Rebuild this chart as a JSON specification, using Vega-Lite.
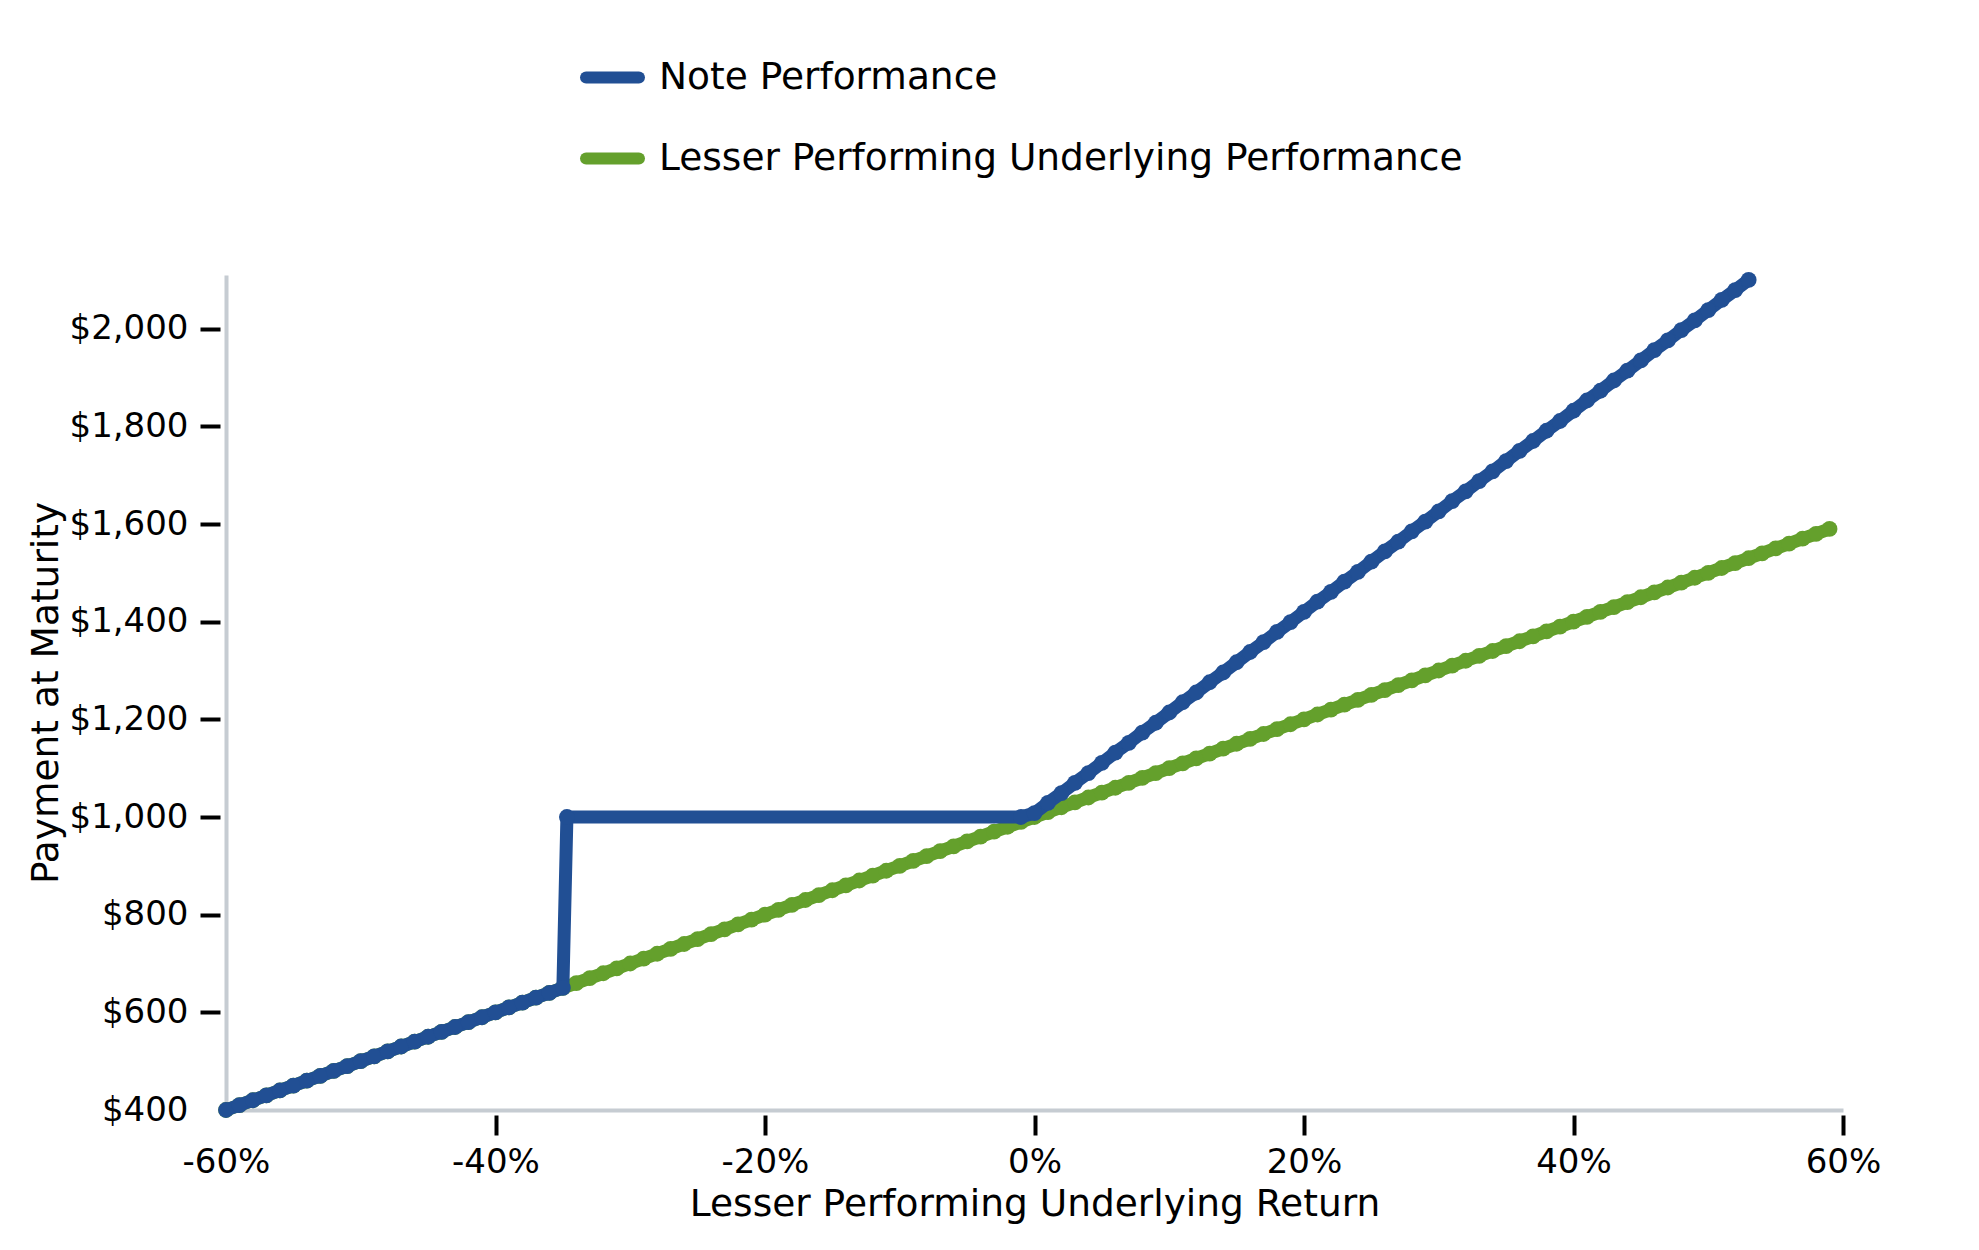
{
  "$schema": "https://vega.github.io/schema/vega-lite/v6.json",
  "description": "Payment at maturity of the note against the lesser performing underlying return.",
  "width": 1617,
  "height": 835,
  "autosize": {"type": "none"},
  "padding": {"left": 226, "top": 275, "right": 136, "bottom": 140},
  "background": "white",
  "config": {
    "font": "DejaVu Sans",
    "view": {"stroke": null}
  },
  "data": {
    "values": [
      {"r": -60, "under": 400, "note": 400}, {"r": -59, "under": 410, "note": 410}, {"r": -58, "under": 420, "note": 420},
      {"r": -57, "under": 430, "note": 430}, {"r": -56, "under": 440, "note": 440}, {"r": -55, "under": 450, "note": 450},
      {"r": -54, "under": 460, "note": 460}, {"r": -53, "under": 470, "note": 470}, {"r": -52, "under": 480, "note": 480},
      {"r": -51, "under": 490, "note": 490}, {"r": -50, "under": 500, "note": 500}, {"r": -49, "under": 510, "note": 510},
      {"r": -48, "under": 520, "note": 520}, {"r": -47, "under": 530, "note": 530}, {"r": -46, "under": 540, "note": 540},
      {"r": -45, "under": 550, "note": 550}, {"r": -44, "under": 560, "note": 560}, {"r": -43, "under": 570, "note": 570},
      {"r": -42, "under": 580, "note": 580}, {"r": -41, "under": 590, "note": 590}, {"r": -40, "under": 600, "note": 600},
      {"r": -39, "under": 610, "note": 610}, {"r": -38, "under": 620, "note": 620}, {"r": -37, "under": 630, "note": 630},
      {"r": -36, "under": 640, "note": 640}, {"r": -35, "under": 650, "note": 650}, {"r": -34.7, "under": null, "note": 1000},
      {"r": -34, "under": 660, "note": null}, {"r": -33, "under": 670, "note": null}, {"r": -32, "under": 680, "note": null},
      {"r": -31, "under": 690, "note": null}, {"r": -30, "under": 700, "note": null}, {"r": -29, "under": 710, "note": null},
      {"r": -28, "under": 720, "note": null}, {"r": -27, "under": 730, "note": null}, {"r": -26, "under": 740, "note": null},
      {"r": -25, "under": 750, "note": null}, {"r": -24, "under": 760, "note": null}, {"r": -23, "under": 770, "note": null},
      {"r": -22, "under": 780, "note": null}, {"r": -21, "under": 790, "note": null}, {"r": -20, "under": 800, "note": null},
      {"r": -19, "under": 810, "note": null}, {"r": -18, "under": 820, "note": null}, {"r": -17, "under": 830, "note": null},
      {"r": -16, "under": 840, "note": null}, {"r": -15, "under": 850, "note": null}, {"r": -14, "under": 860, "note": null},
      {"r": -13, "under": 870, "note": null}, {"r": -12, "under": 880, "note": null}, {"r": -11, "under": 890, "note": null},
      {"r": -10, "under": 900, "note": null}, {"r": -9, "under": 910, "note": null}, {"r": -8, "under": 920, "note": null},
      {"r": -7, "under": 930, "note": null}, {"r": -6, "under": 940, "note": null}, {"r": -5, "under": 950, "note": null},
      {"r": -4, "under": 960, "note": null}, {"r": -3, "under": 970, "note": null}, {"r": -2, "under": 980, "note": null},
      {"r": -1, "under": 990, "note": 1000}, {"r": 0, "under": 1000, "note": 1008}, {"r": 1, "under": 1010, "note": 1029},
      {"r": 2, "under": 1020, "note": 1049}, {"r": 3, "under": 1030, "note": 1070}, {"r": 4, "under": 1040, "note": 1090},
      {"r": 5, "under": 1050, "note": 1111}, {"r": 6, "under": 1060, "note": 1132}, {"r": 7, "under": 1070, "note": 1152},
      {"r": 8, "under": 1080, "note": 1173}, {"r": 9, "under": 1090, "note": 1193}, {"r": 10, "under": 1100, "note": 1214},
      {"r": 11, "under": 1110, "note": 1235}, {"r": 12, "under": 1120, "note": 1255}, {"r": 13, "under": 1130, "note": 1276},
      {"r": 14, "under": 1140, "note": 1296}, {"r": 15, "under": 1150, "note": 1317}, {"r": 16, "under": 1160, "note": 1338},
      {"r": 17, "under": 1170, "note": 1358}, {"r": 18, "under": 1180, "note": 1379}, {"r": 19, "under": 1190, "note": 1399},
      {"r": 20, "under": 1200, "note": 1420}, {"r": 21, "under": 1210, "note": 1441}, {"r": 22, "under": 1220, "note": 1461},
      {"r": 23, "under": 1230, "note": 1482}, {"r": 24, "under": 1240, "note": 1502}, {"r": 25, "under": 1250, "note": 1523},
      {"r": 26, "under": 1260, "note": 1544}, {"r": 27, "under": 1270, "note": 1564}, {"r": 28, "under": 1280, "note": 1585},
      {"r": 29, "under": 1290, "note": 1605}, {"r": 30, "under": 1300, "note": 1626}, {"r": 31, "under": 1310, "note": 1647},
      {"r": 32, "under": 1320, "note": 1667}, {"r": 33, "under": 1330, "note": 1688}, {"r": 34, "under": 1340, "note": 1708},
      {"r": 35, "under": 1350, "note": 1729}, {"r": 36, "under": 1360, "note": 1750}, {"r": 37, "under": 1370, "note": 1770},
      {"r": 38, "under": 1380, "note": 1791}, {"r": 39, "under": 1390, "note": 1811}, {"r": 40, "under": 1400, "note": 1832},
      {"r": 41, "under": 1410, "note": 1853}, {"r": 42, "under": 1420, "note": 1873}, {"r": 43, "under": 1430, "note": 1894},
      {"r": 44, "under": 1440, "note": 1914}, {"r": 45, "under": 1450, "note": 1935}, {"r": 46, "under": 1460, "note": 1956},
      {"r": 47, "under": 1470, "note": 1976}, {"r": 48, "under": 1480, "note": 1997}, {"r": 49, "under": 1490, "note": 2017},
      {"r": 50, "under": 1500, "note": 2038}, {"r": 51, "under": 1510, "note": 2059}, {"r": 52, "under": 1520, "note": 2079},
      {"r": 53, "under": 1530, "note": 2100}, {"r": 54, "under": 1540, "note": null}, {"r": 55, "under": 1550, "note": null},
      {"r": 56, "under": 1560, "note": null}, {"r": 57, "under": 1570, "note": null}, {"r": 58, "under": 1580, "note": null},
      {"r": 59, "under": 1590, "note": null}
    ]
  },
  "layer": [
    {
      "mark": {"type": "line", "strokeWidth": 13, "strokeCap": "round", "strokeJoin": "round", "invalid": "filter",
               "point": {"filled": true, "size": 250}},
      "encoding": {
        "x": {
          "field": "r", "type": "quantitative",
          "scale": {"domain": [-60, 60], "nice": false, "zero": false},
          "axis": {"orient": "bottom", "domain": true, "domainColor": "#c6ccd2", "domainWidth": 4,
                   "ticks": false, "labels": false, "grid": false, "title": null}
        },
        "y": {
          "field": "under", "type": "quantitative",
          "scale": {"domain": [400, 2110], "nice": false, "zero": false},
          "axis": {"orient": "left", "domain": true, "domainColor": "#c6ccd2", "domainWidth": 4,
                   "ticks": false, "labels": false, "grid": false, "title": null}
        },
        "color": {
          "datum": "Lesser Performing Underlying Performance",
          "scale": {"domain": ["Note Performance", "Lesser Performing Underlying Performance"],
                    "range": ["#214f94", "#64a02c"]}
        }
      }
    },
    {
      "mark": {"type": "line", "strokeWidth": 13, "strokeCap": "round", "strokeJoin": "round", "invalid": "filter",
               "point": {"filled": true, "size": 250}},
      "encoding": {
        "x": {
          "field": "r", "type": "quantitative",
          "axis": {
            "orient": "bottom", "offset": 5, "domain": false, "grid": false,
            "values": [-60, -40, -20, 0, 20, 40, 60],
            "tickSize": 20, "tickWidth": 4,
            "tickColor": {"condition": {"test": "datum.value == -60", "value": "transparent"}, "value": "black"},
            "labelExpr": "(datum.value < 0 ? '-' : '') + abs(datum.value) + '%'",
            "labelFlush": false, "labelOverlap": false, "labelBound": false,
            "labelFontSize": 34, "labelColor": "black", "labelPadding": 10,
            "title": "Lesser Performing Underlying Return",
            "titleFontSize": 37.5, "titleFontWeight": "normal", "titleColor": "black", "titlePadding": 6
          }
        },
        "y": {
          "field": "note", "type": "quantitative",
          "axis": {
            "orient": "left", "offset": 6, "domain": false, "grid": false,
            "values": [400, 600, 800, 1000, 1200, 1400, 1600, 1800, 2000],
            "tickSize": 20, "tickWidth": 4,
            "tickColor": {"condition": {"test": "datum.value == 400", "value": "transparent"}, "value": "black"},
            "format": "$,.0f",
            "labelFlush": false, "labelOverlap": false,
            "labelFontSize": 34, "labelColor": "black", "labelPadding": 12,
            "title": "Payment at Maturity",
            "titleFontSize": 37.5, "titleFontWeight": "normal", "titleColor": "black", "titlePadding": 4
          }
        },
        "color": {
          "datum": "Note Performance",
          "legend": {
            "title": null, "orient": "none", "legendX": 354, "legendY": -230,
            "direction": "vertical", "padding": 0,
            "symbolType": "stroke", "symbolStrokeWidth": 12, "symbolSize": 2800,
            "labelFontSize": 37.5, "labelColor": "black", "labelOffset": 14, "labelLimit": 0,
            "rowPadding": 24,
            "symbolOpacity": 1,
            "encode": {"symbols": {"update": {"strokeCap": {"value": "round"}}}}
          }
        }
      }
    }
  ],
  "resolve": {"axis": {"x": "independent", "y": "independent"}}
}
